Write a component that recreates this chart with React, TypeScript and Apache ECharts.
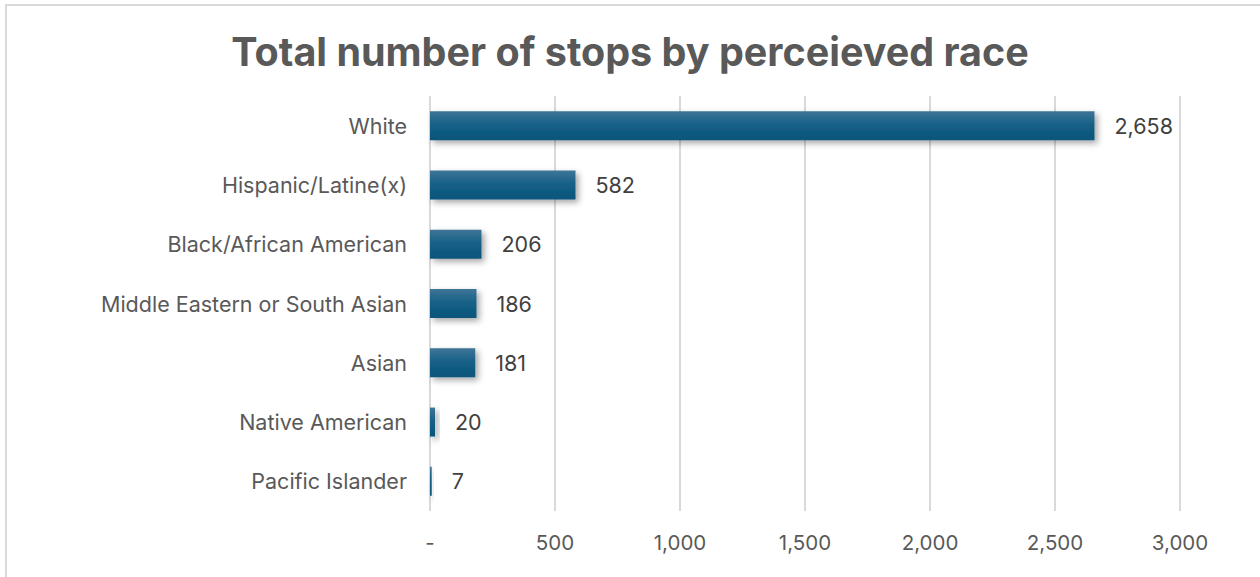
import React, { useEffect, useRef } from "react";
import * as echarts from "echarts";

const categories = [
  "White",
  "Hispanic/Latine(x)",
  "Black/African American",
  "Middle Eastern or South Asian",
  "Asian",
  "Native American",
  "Pacific Islander",
];
const stops = [2658, 582, 206, 186, 181, 20, 7];
const xTicks = [0, 500, 1000, 1500, 2000, 2500, 3000];

const fmt = (v: number) => (v === 0 ? "-" : v.toLocaleString("en-US"));
const FONT = "Inter, Open Sans, Liberation Sans, Arial, sans-serif";

export default function App() {
  const ref = useRef<HTMLDivElement>(null);
  useEffect(() => {
    if (!ref.current) return;
    const chart = echarts.init(ref.current, null, { renderer: "svg" });
    chart.setOption({
      animation: false,
      backgroundColor: "#ffffff",
      textStyle: { fontFamily: FONT },
      title: {
        text: "Total number of stops by perceieved race",
        left: "center",
        top: 27,
        textStyle: {
          fontSize: 39.5,
          fontWeight: "bold",
          color: "#595959",
          fontFamily: FONT,
        },
      },
      graphic: [
        {
          type: "rect",
          shape: { x: 6, y: 5, width: 1400, height: 700 },
          style: { fill: "none", stroke: "#d9d9d9", lineWidth: 2 },
          silent: true,
          z: -1,
        },
      ],
      grid: { left: 430, right: 80, top: 96, bottom: 66, containLabel: false },
      xAxis: {
        type: "value",
        min: xTicks[0],
        max: xTicks[xTicks.length - 1],
        interval: 500,
        axisLine: { show: false },
        axisTick: { show: false },
        splitLine: { show: true, lineStyle: { color: "#d9d9d9", width: 2 } },
        axisLabel: {
          formatter: (v: number) => fmt(v),
          color: "#595959",
          fontSize: 20.5,
          margin: 21,
        },
      },
      yAxis: {
        type: "category",
        data: categories,
        inverse: true,
        axisLine: { show: false },
        axisTick: { show: false },
        axisLabel: { color: "#595959", fontSize: 21.5, margin: 23 },
      },
      series: [
        {
          type: "bar",
          data: stops,
          barWidth: 29,
          itemStyle: {
            color: new echarts.graphic.LinearGradient(0, 0, 0, 1, [
              { offset: 0, color: "#3f7597" },
              { offset: 0.5, color: "#145f86" },
              { offset: 1, color: "#0b5479" },
            ]),
            shadowBlur: 6,
            shadowColor: "rgba(0,0,0,0.35)",
            shadowOffsetX: 3,
            shadowOffsetY: 3,
          },
          label: {
            show: true,
            position: "right",
            distance: 20,
            color: "#404040",
            fontSize: 21.5,
            formatter: (p: any) => fmt(p.value),
          },
        },
      ],
    });
    return () => chart.dispose();
  }, []);
  return (
    <div
      ref={ref}
      style={{ position: "absolute", left: 0, top: 0, width: 1260, height: 577 }}
    />
  );
}
